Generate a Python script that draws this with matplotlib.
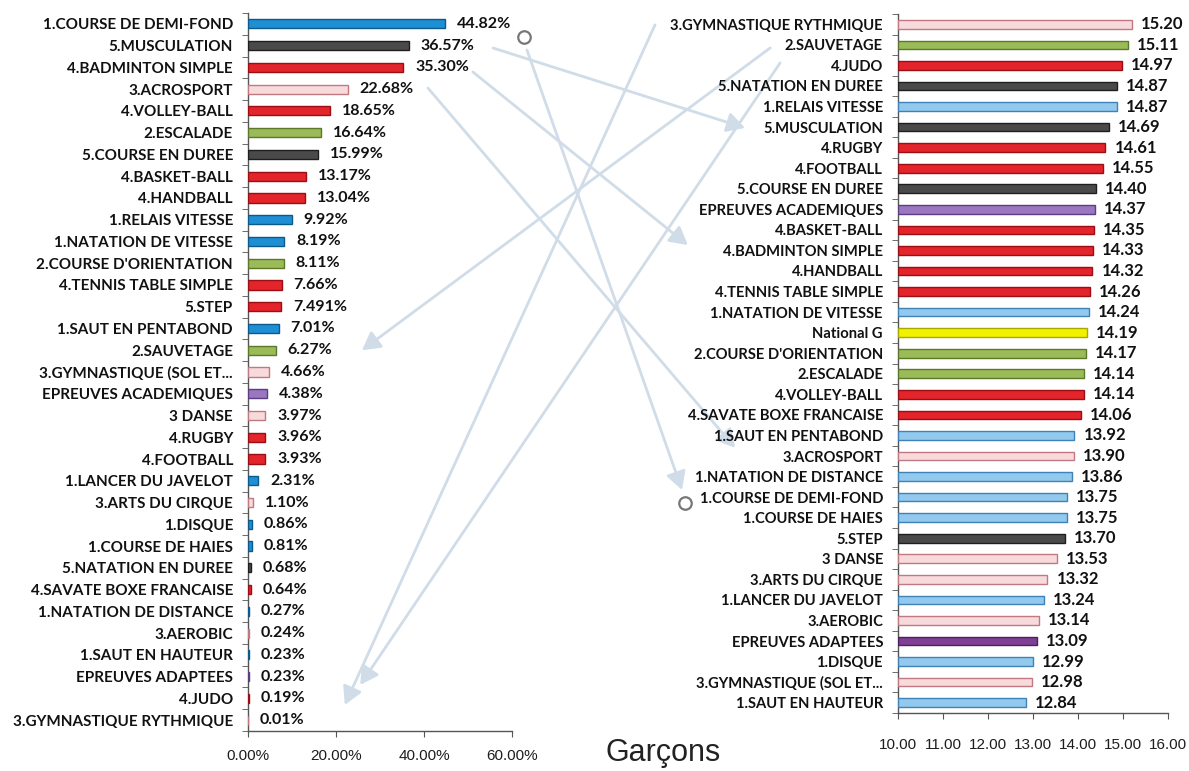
import matplotlib
matplotlib.use("Agg")
import matplotlib.pyplot as plt
from matplotlib.patches import ConnectionPatch
import numpy as np

# left chart: share of boys per activity (%)
left_labels = ["1.COURSE DE DEMI-FOND", "5.MUSCULATION", "4.BADMINTON SIMPLE", "3.ACROSPORT",
               "4.VOLLEY-BALL", "2.ESCALADE", "5.COURSE EN DUREE", "4.BASKET-BALL", "4.HANDBALL",
               "1.RELAIS VITESSE", "1.NATATION DE VITESSE", "2.COURSE D'ORIENTATION",
               "4.TENNIS TABLE SIMPLE", "5.STEP", "1.SAUT EN PENTABOND", "2.SAUVETAGE",
               "3.GYMNASTIQUE (SOL ET...", "EPREUVES ACADEMIQUES", "3 DANSE", "4.RUGBY", "4.FOOTBALL",
               "1.LANCER DU JAVELOT", "3.ARTS DU CIRQUE", "1.DISQUE", "1.COURSE DE HAIES",
               "5.NATATION EN DUREE", "4.SAVATE BOXE FRANCAISE", "1.NATATION DE DISTANCE",
               "3.AEROBIC", "1.SAUT EN HAUTEUR", "EPREUVES ADAPTEES", "4.JUDO",
               "3.GYMNASTIQUE RYTHMIQUE"]
left_values = [44.82, 36.57, 35.30, 22.68, 18.65, 16.64, 15.99, 13.17, 13.04, 9.92, 8.19, 8.11,
               7.66, 7.491, 7.01, 6.27, 4.66, 4.38, 3.97, 3.96, 3.93, 2.31, 1.10, 0.86, 0.81,
               0.68, 0.64, 0.27, 0.24, 0.23, 0.23, 0.19, 0.01]
left_texts = ["44.82%", "36.57%", "35.30%", "22.68%", "18.65%", "16.64%", "15.99%", "13.17%",
              "13.04%", "9.92%", "8.19%", "8.11%", "7.66%", "7.491%", "7.01%", "6.27%", "4.66%",
              "4.38%", "3.97%", "3.96%", "3.93%", "2.31%", "1.10%", "0.86%", "0.81%", "0.68%",
              "0.64%", "0.27%", "0.24%", "0.23%", "0.23%", "0.19%", "0.01%"]

# right chart: average mark per activity
right_labels = ["3.GYMNASTIQUE RYTHMIQUE", "2.SAUVETAGE", "4.JUDO", "5.NATATION EN DUREE",
                "1.RELAIS VITESSE", "5.MUSCULATION", "4.RUGBY", "4.FOOTBALL", "5.COURSE EN DUREE",
                "EPREUVES ACADEMIQUES", "4.BASKET-BALL", "4.BADMINTON SIMPLE", "4.HANDBALL",
                "4.TENNIS TABLE SIMPLE", "1.NATATION DE VITESSE", "National G",
                "2.COURSE D'ORIENTATION", "2.ESCALADE", "4.VOLLEY-BALL", "4.SAVATE BOXE FRANCAISE",
                "1.SAUT EN PENTABOND", "3.ACROSPORT", "1.NATATION DE DISTANCE",
                "1.COURSE DE DEMI-FOND", "1.COURSE DE HAIES", "5.STEP", "3 DANSE",
                "3.ARTS DU CIRQUE", "1.LANCER DU JAVELOT", "3.AEROBIC", "EPREUVES ADAPTEES",
                "1.DISQUE", "3.GYMNASTIQUE (SOL ET...", "1.SAUT EN HAUTEUR"]
right_values = [15.20, 15.11, 14.97, 14.87, 14.87, 14.69, 14.61, 14.55, 14.40, 14.37, 14.35,
                14.33, 14.32, 14.26, 14.24, 14.19, 14.17, 14.14, 14.14, 14.06, 13.92, 13.90,
                13.86, 13.75, 13.75, 13.70, 13.53, 13.32, 13.24, 13.14, 13.09, 12.99, 12.98, 12.84]

left_ticks = [0, 20, 40, 60]
right_ticks = [10, 11, 12, 13, 14, 15, 16]

# hand-drawn arrows: (label, direction, left x %, left dy, right x, right dy)
links = [
    ("5.MUSCULATION", "LR", 55.7, 0.11, 6.6, 0.04),
    ("4.BADMINTON SIMPLE", "LR", 51.1, 0.21, 5.33, -0.26),
    ("3.ACROSPORT", "LR", 40.9, -0.05, 6.38, -0.4),
    ("1.COURSE DE DEMI-FOND", "LR", 63.4, 1.2, 5.2, -0.35),
    ("2.SAUVETAGE", "RL", 25.9, 0.0, 7.16, 0.15),
    ("3.GYMNASTIQUE RYTHMIQUE", "RL", 22.0, -0.7, 4.6, 0.03),
    ("4.JUDO", "RL", 25.5, -0.62, 7.38, -0.12),
]

plt.rcParams['font.family'] = ['Lato', 'DejaVu Sans']


def colors_for(label, side):
    if label.startswith("National"):
        return "#f2f200", "#a8a800"
    if label.startswith("EPREUVES ADAPTEES") and side == "R":
        return "#7e3f94", "#4d2060"
    if label.startswith("EPREUVES"):
        return "#9b77c2", "#5b3d82"
    if side == "L" and label == "5.STEP":
        return "#e3242b", "#9b0f14"
    c = label[0]
    if c == "1":
        return ("#1e8fd2", "#0b5a8c") if side == "L" else ("#92c9ec", "#3d82b8")
    if c == "2":
        return "#9bbb59", "#5c7829"
    if c == "3":
        return "#f7dadc", "#c27880"
    if c == "4":
        return "#e3242b", "#9b0f14"
    return "#4a4a4a", "#1f1f1f"


fig = plt.figure(figsize=(11.89, 7.71), dpi=100)
axL = fig.add_axes([248 / 1189, 1 - 731 / 771, 264 / 1189, 718 / 771])
axR = fig.add_axes([898 / 1189, 1 - 713 / 771, 270 / 1189, 699 / 771])

for ax, labels, values, side, lfs in [(axL, left_labels, left_values, "L", 11.0),
                                      (axR, right_labels, right_values, "R", 10.6)]:
    y = np.arange(len(labels))
    fc, ec = zip(*[colors_for(l, side) for l in labels])
    ax.barh(y, values, height=0.42, color=fc, edgecolor=ec, linewidth=1.0, zorder=3)
    ax.set_ylim(len(labels) - 0.5, -0.5)
    ax.set_yticks(y)
    ax.set_yticklabels(labels, fontsize=lfs, fontweight="bold", color="#111111")
    ax.set_yticks(np.arange(len(labels) + 1) - 0.5, minor=True)
    ax.tick_params(axis="y", which="major", length=0, pad=10.8)
    ax.tick_params(axis="y", which="minor", length=4, color="#555555", direction="out")
    ax.tick_params(axis="x", length=4, color="#555555", direction="out", labelsize=11,
                   labelcolor="#1e1e1e")
    for s in ["top", "right"]:
        ax.spines[s].set_visible(False)
    for s in ["left", "bottom"]:
        ax.spines[s].set_color("#555555")
        ax.spines[s].set_linewidth(1.0)
    ax.set_facecolor("none")

axL.set_xlim(0, 60)
axL.set_xticks(left_ticks)
axL.set_xticklabels(["%.2f%%" % t for t in left_ticks], family="Liberation Sans")
axL.tick_params(axis="x", pad=8.6)
for i, (v, t) in enumerate(zip(left_values, left_texts)):
    axL.text(v + 2.7, i, t, va="center", ha="left", fontsize=11.5, fontweight="bold",
             color="#111111", zorder=4)

axR.set_xlim(10, 16)
axR.set_xticks(right_ticks)
axR.set_xticklabels(["%.2f" % t for t in right_ticks], family="Liberation Sans")
axR.tick_params(axis="x", pad=14)
# bars start at the axis origin 10.00
for p, v in zip(axR.patches, right_values):
    p.set_x(10)
    p.set_width(v - 10)
for i, v in enumerate(right_values):
    axR.text(v + 0.2, i, "%.2f" % v, va="center", ha="left", fontsize=12, fontweight="bold",
             color="#111111", zorder=4)

for lab, d, lx, ldy, rx, rdy in links:
    pL = (lx, left_labels.index(lab) + ldy)
    pR = (rx, right_labels.index(lab) + rdy)
    if d == "LR":
        a, b, ca, cb = pL, pR, axL.transData, axR.transData
    else:
        a, b, ca, cb = pR, pL, axR.transData, axL.transData
    con = ConnectionPatch(xyA=a, coordsA=ca, xyB=b, coordsB=cb,
                          arrowstyle="-|>,head_length=0.9,head_width=0.5", mutation_scale=12,
                          color="#d0dce8", lw=2.0, zorder=-1)
    fig.add_artist(con)

# the two small circles marking 1.COURSE DE DEMI-FOND
axL.plot([62.8], [left_labels.index("1.COURSE DE DEMI-FOND") + 0.59], "o", ms=9, mfc="white",
         mec="#777777", mew=1.6, clip_on=False, zorder=5)
axR.plot([5.27], [right_labels.index("1.COURSE DE DEMI-FOND") + 0.3], "o", ms=9, mfc="white",
         mec="#777777", mew=1.6, clip_on=False, zorder=5)

fig.text(663 / 1189, 1 - 753 / 771, "Garçons", ha="center", va="center", fontsize=22,
         family="Liberation Sans", color="#222222")

fig.savefig("out.png", dpi=100, facecolor="white")
